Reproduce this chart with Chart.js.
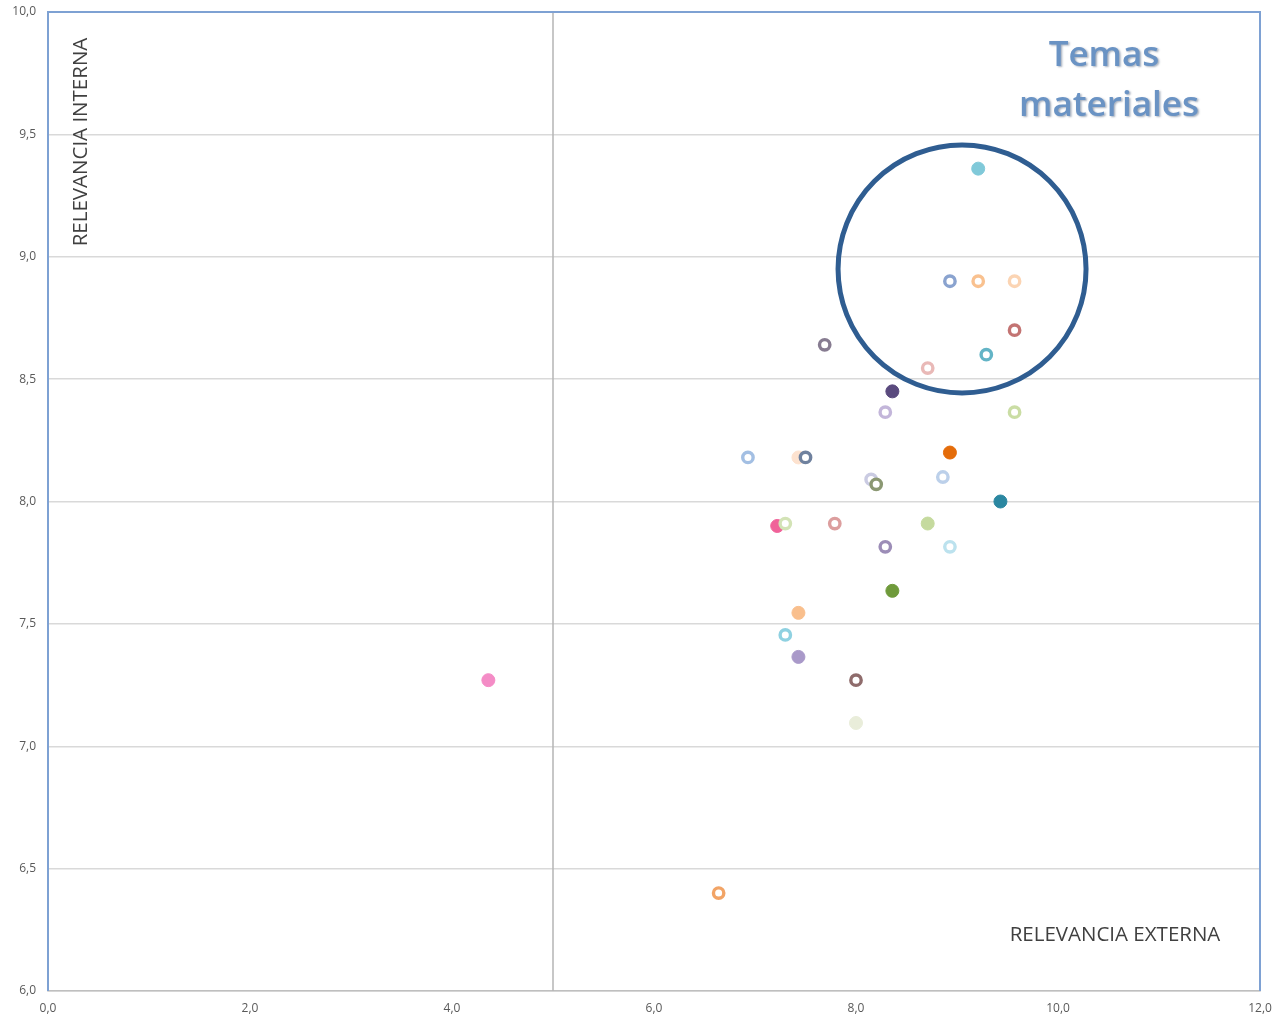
<!DOCTYPE html>
<html>
<head>
<meta charset="utf-8">
<script src="https://cdn.jsdelivr.net/npm/chart.js@4.4.1/dist/chart.umd.min.js"></script>
<style>
  html, body { margin: 0; padding: 0; background: #fff; }
  #wrap { width: 1275px; height: 1019px; }
</style>
</head>
<body>
<div id="wrap"><canvas id="matriz"></canvas></div>
<script>
// Relevancia externa (x) / interna (y) de cada tema
const relExterna = [4.36, 6.64, 6.93, 7.43, 7.50, 7.22, 7.30, 7.79, 7.30, 7.43, 7.43, 7.69,
                    8.00, 8.00, 8.15, 8.20, 8.29, 8.29, 8.36, 8.36, 8.71, 8.71, 8.86, 8.93,
                    8.93, 8.93, 9.21, 9.21, 9.29, 9.43, 9.57, 9.57, 9.57];
const relInterna = [7.27, 6.40, 8.18, 8.18, 8.18, 7.90, 7.91, 7.91, 7.455, 7.545, 7.365, 8.64,
                    7.27, 7.095, 8.09, 8.07, 8.365, 7.815, 8.45, 7.635, 8.545, 7.91, 8.10, 8.20,
                    8.90, 7.815, 9.36, 8.90, 8.60, 8.00, 8.90, 8.70, 8.365];

// colour and marker type for each point (same order)
const colors = ["#f48cc6", "#f2a466", "#a3bfe3", "#fde2cf", "#6f819e", "#f06299", "#d3e3b6", "#dc9e9e",
                "#8fd1e1", "#f9bf8d", "#a999c9", "#877c91", "#8f6c6c", "#e9edda", "#cacbe2", "#8b9873",
                "#c3b6da", "#9c8db7", "#5a4a7e", "#6f9a3b", "#e9b9b7", "#c5da9e", "#bcd0ea", "#e46c0a",
                "#8aa3cf", "#bce2ee", "#80c9d9", "#f9c18f", "#63b4c6", "#2b87a1", "#fbd4b3", "#c37473", "#cadda4"];
const hollow = [false, true, true, false, true, false, true, true,
                true, false, false, true, true, false, true, true,
                true, true, false, false, true, false, true, false,
                true, true, false, true, true, false, true, true, true];

const xTicks = [0, 2, 4, 6, 8, 10, 12];

const points = relExterna.map((x, i) => ({ x: x, y: relInterna[i] }));

const fmt = v => v.toFixed(1).replace(".", ",");

// extra drawing: blue frame, axis crossing at 5, circle and labels
const extras = {
  id: "extras",
  beforeDatasetsDraw(chart) {
    const { ctx, chartArea: a, scales } = chart;
    ctx.save();
    const x5 = scales.x.getPixelForValue(5);
    ctx.strokeStyle = "#b4b4b4";
    ctx.lineWidth = 1.5;
    ctx.beginPath();
    ctx.moveTo(x5, a.top);
    ctx.lineTo(x5, a.bottom);
    ctx.stroke();
    ctx.strokeStyle = "#7ea1d3";
    ctx.lineWidth = 2;
    ctx.beginPath();
    ctx.moveTo(a.left, a.bottom);
    ctx.lineTo(a.left, a.top);
    ctx.lineTo(a.right, a.top);
    ctx.lineTo(a.right, a.bottom);
    ctx.stroke();
    ctx.restore();
  },
  afterDraw(chart) {
    const { ctx, scales } = chart;
    ctx.save();
    // circle round the material topics
    ctx.strokeStyle = "#2f5d91";
    ctx.lineWidth = 5;
    ctx.beginPath();
    ctx.arc(scales.x.getPixelForValue(9.05), scales.y.getPixelForValue(8.95), 124, 0, Math.PI * 2);
    ctx.stroke();

    // Temas materiales
    ctx.font = "600 35px 'Open Sans', sans-serif";
    ctx.textAlign = "center";
    ctx.textBaseline = "middle";
    ctx.shadowColor = "rgba(60,80,110,0.45)";
    ctx.shadowOffsetX = 1.5;
    ctx.shadowOffsetY = 1.5;
    ctx.shadowBlur = 2;
    ctx.fillStyle = "#6a93c4";
    ctx.fillText("Temas", 1104, 56);
    ctx.fillText("materiales", 1109, 106);
    ctx.shadowColor = "transparent";

    // axis names
    ctx.fillStyle = "#404040";
    ctx.font = "20.5px 'Open Sans', sans-serif";
    ctx.fillText("RELEVANCIA EXTERNA", 1115, 935);
    ctx.translate(81, 142);
    ctx.rotate(-Math.PI / 2);
    ctx.fillText("RELEVANCIA INTERNA", 0, 0);
    ctx.restore();
  }
};

new Chart(document.getElementById("matriz"), {
  type: "scatter",
  data: {
    datasets: [{
      data: points,
      pointRadius: hollow.map(h => h ? 5.2 : 6.5),
      pointHoverRadius: hollow.map(h => h ? 5.2 : 6.5),
      pointBorderWidth: hollow.map(h => h ? 3.4 : 1),
      pointBackgroundColor: colors.map((c, i) => hollow[i] ? "#ffffff" : c),
      pointBorderColor: colors
    }]
  },
  options: {
    responsive: true,
    maintainAspectRatio: false,
    animation: false,
    layout: { padding: { top: 12, right: 15, left: 0, bottom: 0 } },
    plugins: {
      legend: { display: false },
      tooltip: { enabled: false }
    },
    scales: {
      x: {
        type: "linear",
        min: 0,
        max: 12,
        afterBuildTicks: axis => { axis.ticks = xTicks.map(v => ({ value: v })); },
        afterFit: axis => { axis.height = 28; axis.paddingLeft = 0; axis.paddingRight = 0; },
        grid: { display: false, drawTicks: false },
        border: { display: true, color: "#bfbfbf", width: 1.5 },
        ticks: {
          padding: 10,
          color: "#595959",
          font: { family: "'Open Sans', sans-serif", size: 12 },
          callback: v => fmt(v)
        }
      },
      y: {
        type: "linear",
        min: 6,
        max: 10,
        afterFit: axis => { axis.width = 48; axis.paddingTop = 0; axis.paddingBottom = 0; },
        grid: { color: "#d9d9d9", lineWidth: 1.5, drawTicks: false },
        border: { display: false },
        ticks: {
          stepSize: 0.5,
          padding: 12,
          color: "#595959",
          font: { family: "'Open Sans', sans-serif", size: 12 },
          callback: v => fmt(v)
        }
      }
    }
  },
  plugins: [extras]
});
</script>
</body>
</html>
